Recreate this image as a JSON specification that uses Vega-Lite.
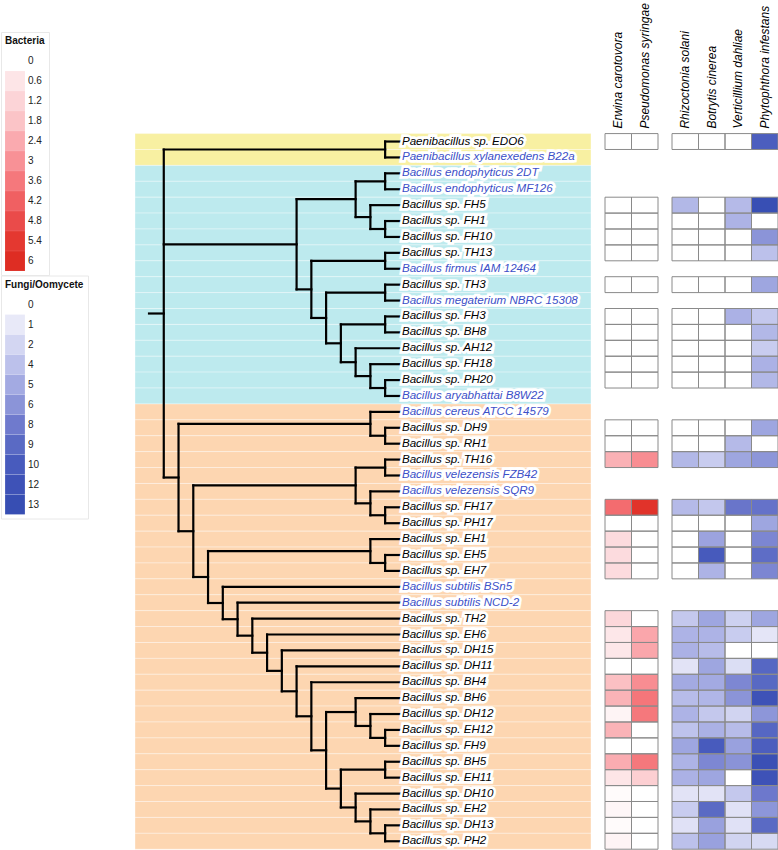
{
  "$schema": "https://vega.github.io/schema/vega-lite/v6.json",
  "padding": 0,
  "background": "white",
  "config": {"view": {"stroke": null}, "font": "Liberation Sans"},
  "bounds": "flush",
  "spacing": 14,
  "resolve": {"scale": {"color": "independent", "fill": "independent", "x": "independent", "y": "independent"}},
  "datasets": {
    "taxa": [
      {"idx": 0, "name": "Paenibacillus sp. EDO6", "kind": "isolate", "clade": "Paenibacillus"},
      {"idx": 1, "name": "Paenibacillus xylanexedens B22a", "kind": "reference", "clade": "Paenibacillus"},
      {"idx": 2, "name": "Bacillus endophyticus 2DT", "kind": "reference", "clade": "Bacillus I"},
      {"idx": 3, "name": "Bacillus endophyticus MF126", "kind": "reference", "clade": "Bacillus I"},
      {"idx": 4, "name": "Bacillus sp. FH5", "kind": "isolate", "clade": "Bacillus I"},
      {"idx": 5, "name": "Bacillus sp. FH1", "kind": "isolate", "clade": "Bacillus I"},
      {"idx": 6, "name": "Bacillus sp. FH10", "kind": "isolate", "clade": "Bacillus I"},
      {"idx": 7, "name": "Bacillus sp. TH13", "kind": "isolate", "clade": "Bacillus I"},
      {"idx": 8, "name": "Bacillus firmus IAM 12464", "kind": "reference", "clade": "Bacillus I"},
      {"idx": 9, "name": "Bacillus sp. TH3", "kind": "isolate", "clade": "Bacillus I"},
      {"idx": 10, "name": "Bacillus megaterium NBRC 15308", "kind": "reference", "clade": "Bacillus I"},
      {"idx": 11, "name": "Bacillus sp. FH3", "kind": "isolate", "clade": "Bacillus I"},
      {"idx": 12, "name": "Bacillus sp. BH8", "kind": "isolate", "clade": "Bacillus I"},
      {"idx": 13, "name": "Bacillus sp. AH12", "kind": "isolate", "clade": "Bacillus I"},
      {"idx": 14, "name": "Bacillus sp. FH18", "kind": "isolate", "clade": "Bacillus I"},
      {"idx": 15, "name": "Bacillus sp. PH20", "kind": "isolate", "clade": "Bacillus I"},
      {"idx": 16, "name": "Bacillus aryabhattai B8W22", "kind": "reference", "clade": "Bacillus I"},
      {"idx": 17, "name": "Bacillus cereus ATCC 14579", "kind": "reference", "clade": "Bacillus II"},
      {"idx": 18, "name": "Bacillus sp. DH9", "kind": "isolate", "clade": "Bacillus II"},
      {"idx": 19, "name": "Bacillus sp. RH1", "kind": "isolate", "clade": "Bacillus II"},
      {"idx": 20, "name": "Bacillus sp. TH16", "kind": "isolate", "clade": "Bacillus II"},
      {"idx": 21, "name": "Bacillus velezensis FZB42", "kind": "reference", "clade": "Bacillus II"},
      {"idx": 22, "name": "Bacillus velezensis SQR9", "kind": "reference", "clade": "Bacillus II"},
      {"idx": 23, "name": "Bacillus sp. FH17", "kind": "isolate", "clade": "Bacillus II"},
      {"idx": 24, "name": "Bacillus sp. PH17", "kind": "isolate", "clade": "Bacillus II"},
      {"idx": 25, "name": "Bacillus sp. EH1", "kind": "isolate", "clade": "Bacillus II"},
      {"idx": 26, "name": "Bacillus sp. EH5", "kind": "isolate", "clade": "Bacillus II"},
      {"idx": 27, "name": "Bacillus sp. EH7", "kind": "isolate", "clade": "Bacillus II"},
      {"idx": 28, "name": "Bacillus subtilis BSn5", "kind": "reference", "clade": "Bacillus II"},
      {"idx": 29, "name": "Bacillus subtilis NCD-2", "kind": "reference", "clade": "Bacillus II"},
      {"idx": 30, "name": "Bacillus sp. TH2", "kind": "isolate", "clade": "Bacillus II"},
      {"idx": 31, "name": "Bacillus sp. EH6", "kind": "isolate", "clade": "Bacillus II"},
      {"idx": 32, "name": "Bacillus sp. DH15", "kind": "isolate", "clade": "Bacillus II"},
      {"idx": 33, "name": "Bacillus sp. DH11", "kind": "isolate", "clade": "Bacillus II"},
      {"idx": 34, "name": "Bacillus sp. BH4", "kind": "isolate", "clade": "Bacillus II"},
      {"idx": 35, "name": "Bacillus sp. BH6", "kind": "isolate", "clade": "Bacillus II"},
      {"idx": 36, "name": "Bacillus sp. DH12", "kind": "isolate", "clade": "Bacillus II"},
      {"idx": 37, "name": "Bacillus sp. EH12", "kind": "isolate", "clade": "Bacillus II"},
      {"idx": 38, "name": "Bacillus sp. FH9", "kind": "isolate", "clade": "Bacillus II"},
      {"idx": 39, "name": "Bacillus sp. BH5", "kind": "isolate", "clade": "Bacillus II"},
      {"idx": 40, "name": "Bacillus sp. EH11", "kind": "isolate", "clade": "Bacillus II"},
      {"idx": 41, "name": "Bacillus sp. DH10", "kind": "isolate", "clade": "Bacillus II"},
      {"idx": 42, "name": "Bacillus sp. EH2", "kind": "isolate", "clade": "Bacillus II"},
      {"idx": 43, "name": "Bacillus sp. DH13", "kind": "isolate", "clade": "Bacillus II"},
      {"idx": 44, "name": "Bacillus sp. PH2", "kind": "isolate", "clade": "Bacillus II"}
    ],
    "tree": [
      {"x": 0, "y": 10.814, "x2": 1, "y2": 10.814},
      {"x": 1, "y": 0.5, "x2": 1, "y2": 21.127},
      {"x": 1, "y": 0.5, "x2": 16, "y2": 0.5},
      {"x": 1, "y": 6.461, "x2": 10, "y2": 6.461},
      {"x": 1, "y": 21.127, "x2": 2, "y2": 21.127},
      {"x": 16, "y": 0, "x2": 16, "y2": 1},
      {"x": 16, "y": 0, "x2": 17, "y2": 0},
      {"x": 16, "y": 1, "x2": 17, "y2": 1},
      {"x": 10, "y": 3.625, "x2": 10, "y2": 9.297},
      {"x": 10, "y": 3.625, "x2": 14, "y2": 3.625},
      {"x": 10, "y": 9.297, "x2": 11, "y2": 9.297},
      {"x": 14, "y": 2.5, "x2": 14, "y2": 4.75},
      {"x": 14, "y": 2.5, "x2": 16, "y2": 2.5},
      {"x": 14, "y": 4.75, "x2": 15, "y2": 4.75},
      {"x": 16, "y": 2, "x2": 16, "y2": 3},
      {"x": 16, "y": 2, "x2": 17, "y2": 2},
      {"x": 16, "y": 3, "x2": 17, "y2": 3},
      {"x": 15, "y": 4, "x2": 15, "y2": 5.5},
      {"x": 15, "y": 4, "x2": 17, "y2": 4},
      {"x": 15, "y": 5.5, "x2": 16, "y2": 5.5},
      {"x": 16, "y": 5, "x2": 16, "y2": 6},
      {"x": 16, "y": 5, "x2": 17, "y2": 5},
      {"x": 16, "y": 6, "x2": 17, "y2": 6},
      {"x": 11, "y": 7.5, "x2": 11, "y2": 11.094},
      {"x": 11, "y": 7.5, "x2": 16, "y2": 7.5},
      {"x": 11, "y": 11.094, "x2": 12, "y2": 11.094},
      {"x": 16, "y": 7, "x2": 16, "y2": 8},
      {"x": 16, "y": 7, "x2": 17, "y2": 7},
      {"x": 16, "y": 8, "x2": 17, "y2": 8},
      {"x": 12, "y": 9.5, "x2": 12, "y2": 12.688},
      {"x": 12, "y": 9.5, "x2": 16, "y2": 9.5},
      {"x": 12, "y": 12.688, "x2": 13, "y2": 12.688},
      {"x": 16, "y": 9, "x2": 16, "y2": 10},
      {"x": 16, "y": 9, "x2": 17, "y2": 9},
      {"x": 16, "y": 10, "x2": 17, "y2": 10},
      {"x": 13, "y": 11.5, "x2": 13, "y2": 13.875},
      {"x": 13, "y": 11.5, "x2": 16, "y2": 11.5},
      {"x": 13, "y": 13.875, "x2": 14, "y2": 13.875},
      {"x": 16, "y": 11, "x2": 16, "y2": 12},
      {"x": 16, "y": 11, "x2": 17, "y2": 11},
      {"x": 16, "y": 12, "x2": 17, "y2": 12},
      {"x": 14, "y": 13, "x2": 14, "y2": 14.75},
      {"x": 14, "y": 13, "x2": 17, "y2": 13},
      {"x": 14, "y": 14.75, "x2": 15, "y2": 14.75},
      {"x": 15, "y": 14, "x2": 15, "y2": 15.5},
      {"x": 15, "y": 14, "x2": 17, "y2": 14},
      {"x": 15, "y": 15.5, "x2": 16, "y2": 15.5},
      {"x": 16, "y": 15, "x2": 16, "y2": 16},
      {"x": 16, "y": 15, "x2": 17, "y2": 15},
      {"x": 16, "y": 16, "x2": 17, "y2": 16},
      {"x": 2, "y": 17.75, "x2": 2, "y2": 24.504},
      {"x": 2, "y": 17.75, "x2": 15, "y2": 17.75},
      {"x": 2, "y": 24.504, "x2": 3, "y2": 24.504},
      {"x": 15, "y": 17, "x2": 15, "y2": 18.5},
      {"x": 15, "y": 17, "x2": 17, "y2": 17},
      {"x": 15, "y": 18.5, "x2": 16, "y2": 18.5},
      {"x": 16, "y": 18, "x2": 16, "y2": 19},
      {"x": 16, "y": 18, "x2": 17, "y2": 18},
      {"x": 16, "y": 19, "x2": 17, "y2": 19},
      {"x": 3, "y": 21.625, "x2": 3, "y2": 27.384},
      {"x": 3, "y": 21.625, "x2": 14, "y2": 21.625},
      {"x": 3, "y": 27.384, "x2": 4, "y2": 27.384},
      {"x": 14, "y": 20.5, "x2": 14, "y2": 22.75},
      {"x": 14, "y": 20.5, "x2": 16, "y2": 20.5},
      {"x": 14, "y": 22.75, "x2": 15, "y2": 22.75},
      {"x": 16, "y": 20, "x2": 16, "y2": 21},
      {"x": 16, "y": 20, "x2": 17, "y2": 20},
      {"x": 16, "y": 21, "x2": 17, "y2": 21},
      {"x": 15, "y": 22, "x2": 15, "y2": 23.5},
      {"x": 15, "y": 22, "x2": 17, "y2": 22},
      {"x": 15, "y": 23.5, "x2": 16, "y2": 23.5},
      {"x": 16, "y": 23, "x2": 16, "y2": 24},
      {"x": 16, "y": 23, "x2": 17, "y2": 23},
      {"x": 16, "y": 24, "x2": 17, "y2": 24},
      {"x": 4, "y": 25.75, "x2": 4, "y2": 29.018},
      {"x": 4, "y": 25.75, "x2": 15, "y2": 25.75},
      {"x": 4, "y": 29.018, "x2": 5, "y2": 29.018},
      {"x": 15, "y": 25, "x2": 15, "y2": 26.5},
      {"x": 15, "y": 25, "x2": 17, "y2": 25},
      {"x": 15, "y": 26.5, "x2": 16, "y2": 26.5},
      {"x": 16, "y": 26, "x2": 16, "y2": 27},
      {"x": 16, "y": 26, "x2": 17, "y2": 26},
      {"x": 16, "y": 27, "x2": 17, "y2": 27},
      {"x": 5, "y": 28, "x2": 5, "y2": 30.036},
      {"x": 5, "y": 28, "x2": 17, "y2": 28},
      {"x": 5, "y": 30.036, "x2": 6, "y2": 30.036},
      {"x": 6, "y": 29, "x2": 6, "y2": 31.071},
      {"x": 6, "y": 29, "x2": 17, "y2": 29},
      {"x": 6, "y": 31.071, "x2": 7, "y2": 31.071},
      {"x": 7, "y": 30, "x2": 7, "y2": 32.143},
      {"x": 7, "y": 30, "x2": 17, "y2": 30},
      {"x": 7, "y": 32.143, "x2": 8, "y2": 32.143},
      {"x": 8, "y": 31, "x2": 8, "y2": 33.285},
      {"x": 8, "y": 31, "x2": 17, "y2": 31},
      {"x": 8, "y": 33.285, "x2": 9, "y2": 33.285},
      {"x": 9, "y": 32, "x2": 9, "y2": 34.57},
      {"x": 9, "y": 32, "x2": 17, "y2": 32},
      {"x": 9, "y": 34.57, "x2": 10, "y2": 34.57},
      {"x": 10, "y": 33, "x2": 10, "y2": 36.141},
      {"x": 10, "y": 33, "x2": 17, "y2": 33},
      {"x": 10, "y": 36.141, "x2": 11, "y2": 36.141},
      {"x": 11, "y": 34, "x2": 11, "y2": 38.281},
      {"x": 11, "y": 34, "x2": 17, "y2": 34},
      {"x": 11, "y": 38.281, "x2": 12, "y2": 38.281},
      {"x": 12, "y": 35.875, "x2": 12, "y2": 40.688},
      {"x": 12, "y": 35.875, "x2": 14, "y2": 35.875},
      {"x": 12, "y": 40.688, "x2": 13, "y2": 40.688},
      {"x": 14, "y": 35, "x2": 14, "y2": 36.75},
      {"x": 14, "y": 35, "x2": 17, "y2": 35},
      {"x": 14, "y": 36.75, "x2": 15, "y2": 36.75},
      {"x": 15, "y": 36, "x2": 15, "y2": 37.5},
      {"x": 15, "y": 36, "x2": 17, "y2": 36},
      {"x": 15, "y": 37.5, "x2": 16, "y2": 37.5},
      {"x": 16, "y": 37, "x2": 16, "y2": 38},
      {"x": 16, "y": 37, "x2": 17, "y2": 37},
      {"x": 16, "y": 38, "x2": 17, "y2": 38},
      {"x": 13, "y": 39.5, "x2": 13, "y2": 41.875},
      {"x": 13, "y": 39.5, "x2": 16, "y2": 39.5},
      {"x": 13, "y": 41.875, "x2": 14, "y2": 41.875},
      {"x": 16, "y": 39, "x2": 16, "y2": 40},
      {"x": 16, "y": 39, "x2": 17, "y2": 39},
      {"x": 16, "y": 40, "x2": 17, "y2": 40},
      {"x": 14, "y": 41, "x2": 14, "y2": 42.75},
      {"x": 14, "y": 41, "x2": 17, "y2": 41},
      {"x": 14, "y": 42.75, "x2": 15, "y2": 42.75},
      {"x": 15, "y": 42, "x2": 15, "y2": 43.5},
      {"x": 15, "y": 42, "x2": 17, "y2": 42},
      {"x": 15, "y": 43.5, "x2": 16, "y2": 43.5},
      {"x": 16, "y": 43, "x2": 16, "y2": 44},
      {"x": 16, "y": 43, "x2": 17, "y2": 43},
      {"x": 16, "y": 44, "x2": 17, "y2": 44}
    ],
    "heat": [
      {"idx": 0, "Ec": 0, "Ps": 0, "Rs": 0, "Bc": 0, "Vd": 0, "Pi": 9.8},
      {"idx": 4, "Ec": 0, "Ps": 0, "Rs": 4.4, "Bc": 0, "Vd": 4.3, "Pi": 12.8},
      {"idx": 5, "Ec": 0, "Ps": 0, "Rs": 0, "Bc": 0, "Vd": 4.6, "Pi": 0},
      {"idx": 6, "Ec": 0, "Ps": 0, "Rs": 0, "Bc": 0, "Vd": 0, "Pi": 6},
      {"idx": 7, "Ec": 0, "Ps": 0, "Rs": 0, "Bc": 0, "Vd": 0, "Pi": 4},
      {"idx": 9, "Ec": 0, "Ps": 0, "Rs": 0, "Bc": 0, "Vd": 0, "Pi": 5.2},
      {"idx": 11, "Ec": 0, "Ps": 0, "Rs": 0, "Bc": 0, "Vd": 4.7, "Pi": 3.3},
      {"idx": 12, "Ec": 0, "Ps": 0, "Rs": 0, "Bc": 0, "Vd": 0, "Pi": 4.4},
      {"idx": 13, "Ec": 0, "Ps": 0, "Rs": 0, "Bc": 0, "Vd": 0, "Pi": 3},
      {"idx": 14, "Ec": 0, "Ps": 0, "Rs": 0, "Bc": 0, "Vd": 0, "Pi": 4.7},
      {"idx": 15, "Ec": 0, "Ps": 0, "Rs": 0, "Bc": 0, "Vd": 0, "Pi": 4.4},
      {"idx": 18, "Ec": 0, "Ps": 0, "Rs": 0, "Bc": 0, "Vd": 0, "Pi": 5.2},
      {"idx": 19, "Ec": 0, "Ps": 0, "Rs": 0, "Bc": 0, "Vd": 4.3, "Pi": 0},
      {"idx": 20, "Ec": 2.25, "Ps": 3.1, "Rs": 4.4, "Bc": 3, "Vd": 5.2, "Pi": 5.9},
      {"idx": 23, "Ec": 3.9, "Ps": 5.7, "Rs": 4.3, "Bc": 3.4, "Vd": 8.3, "Pi": 8.5},
      {"idx": 24, "Ec": 0, "Ps": 0, "Rs": 0, "Bc": 0, "Vd": 0, "Pi": 5.2},
      {"idx": 25, "Ec": 0.95, "Ps": 0, "Rs": 0, "Bc": 5.3, "Vd": 0, "Pi": 7.1},
      {"idx": 26, "Ec": 0.95, "Ps": 0, "Rs": 0, "Bc": 10.2, "Vd": 0, "Pi": 8.8},
      {"idx": 27, "Ec": 0.95, "Ps": 0, "Rs": 0, "Bc": 4.6, "Vd": 0, "Pi": 7.1},
      {"idx": 30, "Ec": 1.1, "Ps": 0, "Rs": 3.3, "Bc": 5.2, "Vd": 2.5, "Pi": 5.2},
      {"idx": 31, "Ec": 0.55, "Ps": 2.5, "Rs": 4.6, "Bc": 4.6, "Vd": 3, "Pi": 1.2},
      {"idx": 32, "Ec": 0.55, "Ps": 2.5, "Rs": 4.7, "Bc": 4.2, "Vd": 0, "Pi": 0},
      {"idx": 33, "Ec": 0, "Ps": 0, "Rs": 1.3, "Bc": 5.2, "Vd": 1.6, "Pi": 9.2},
      {"idx": 34, "Ec": 1.9, "Ps": 3.1, "Rs": 5, "Bc": 5, "Vd": 7, "Pi": 9.1},
      {"idx": 35, "Ec": 2.2, "Ps": 3.65, "Rs": 4.2, "Bc": 4.5, "Vd": 6, "Pi": 12},
      {"idx": 36, "Ec": 0.25, "Ps": 3.6, "Rs": 4.6, "Bc": 3.3, "Vd": 2.2, "Pi": 5.9},
      {"idx": 37, "Ec": 2.2, "Ps": 0, "Rs": 3.8, "Bc": 4.7, "Vd": 4.2, "Pi": 9.2},
      {"idx": 38, "Ec": 0, "Ps": 0, "Rs": 5.2, "Bc": 10, "Vd": 5.4, "Pi": 9.8},
      {"idx": 39, "Ec": 2.35, "Ps": 3.6, "Rs": 4.6, "Bc": 7, "Vd": 6.1, "Pi": 12.4},
      {"idx": 40, "Ec": 0.6, "Ps": 1.4, "Rs": 4.7, "Bc": 5.2, "Vd": 0, "Pi": 12},
      {"idx": 41, "Ec": 0.1, "Ps": 0, "Rs": 1.3, "Bc": 1.3, "Vd": 3.3, "Pi": 8.1},
      {"idx": 42, "Ec": 0.2, "Ps": 0, "Rs": 3, "Bc": 9, "Vd": 1.4, "Pi": 5.9},
      {"idx": 43, "Ec": 0.1, "Ps": 0, "Rs": 1.4, "Bc": 5.4, "Vd": 1.4, "Pi": 9},
      {"idx": 44, "Ec": 0.25, "Ps": 0, "Rs": 4, "Bc": 5.4, "Vd": 2.2, "Pi": 1.8}
    ]
  },
  "hconcat": [
    {
      "width": 456,
      "height": 850,
      "layer": [
        {
          "data": {"name": "taxa"},
          "mark": {"type": "rect", "stroke": "white", "strokeOpacity": 0.35, "strokeWidth": 1, "yOffset": -7.95, "y2Offset": 7.95},
          "encoding": {
            "y": {"field": "idx", "type": "quantitative", "scale": {"domain": [-8.9, 44.55], "reverse": true, "nice": false, "zero": false}, "axis": null},
            "y2": {"field": "idx"},
            "fill": {"field": "clade", "type": "nominal", "scale": {"domain": ["Paenibacillus", "Bacillus I", "Bacillus II"], "range": ["#f8f0a2", "#bdeaee", "#fdd6b1"]}, "legend": null}
          }
        },
        {
          "data": {"name": "tree"},
          "mark": {"type": "rule", "strokeWidth": 2.2, "color": "black", "strokeCap": "square"},
          "encoding": {
            "x": {"field": "x", "type": "quantitative", "scale": {"domain": [-0.95, 29.95], "nice": false, "zero": false}, "axis": null},
            "x2": {"field": "x2"},
            "y": {"field": "y", "type": "quantitative", "scale": {"domain": [-8.9, 44.55], "reverse": true, "nice": false, "zero": false}, "axis": null},
            "y2": {"field": "y2"}
          }
        },
        {
          "data": {"name": "taxa"},
          "mark": {"type": "text", "align": "left", "baseline": "middle", "dx": 2, "font": "Liberation Sans", "fontStyle": "italic", "fontSize": 11.6, "fill": "white", "stroke": "white", "strokeWidth": 5.5, "strokeJoin": "miter", "strokeMiterLimit": 2},
          "encoding": {
            "x": {"datum": 17, "type": "quantitative", "scale": {"domain": [-0.95, 29.95], "nice": false, "zero": false}, "axis": null},
            "y": {"field": "idx", "type": "quantitative", "scale": {"domain": [-8.9, 44.55], "reverse": true, "nice": false, "zero": false}, "axis": null},
            "text": {"field": "name"}
          }
        },
        {
          "data": {"name": "taxa"},
          "mark": {"type": "text", "align": "left", "baseline": "middle", "dx": 2, "font": "Liberation Sans", "fontStyle": "italic", "fontSize": 11.6},
          "encoding": {
            "x": {"datum": 17, "type": "quantitative", "scale": {"domain": [-0.95, 29.95], "nice": false, "zero": false}, "axis": null},
            "y": {"field": "idx", "type": "quantitative", "scale": {"domain": [-8.9, 44.55], "reverse": true, "nice": false, "zero": false}, "axis": null},
            "text": {"field": "name"},
            "color": {"field": "kind", "type": "nominal", "scale": {"domain": ["isolate", "reference"], "range": ["#000000", "#3c50c8"]}, "legend": null}
          }
        }
      ]
    },
    {
      "width": 53,
      "height": 850,
      "layer": [
        {
          "data": {"name": "heat"},
          "transform": [{"fold": ["Ec", "Ps"], "as": ["pathogen", "v"]}],
          "mark": {"type": "rect", "yOffset": -7.95, "y2Offset": 7.95},
          "encoding": {
            "x": {"field": "pathogen", "type": "nominal", "scale": {"domain": ["Ec", "Ps"], "paddingInner": 0, "paddingOuter": 0}, "axis": null},
            "y": {"field": "idx", "type": "quantitative", "scale": {"domain": [-8.9, 44.55], "reverse": true, "nice": false, "zero": false}, "axis": null},
            "y2": {"field": "idx"},
            "fill": {
              "field": "v", "type": "quantitative",
              "scale": {"type": "linear", "interpolate": "rgb", "clamp": true, "nice": false, "zero": false, "domain": [0, 0.6, 1.2, 1.8, 2.4, 3, 3.6, 4.2, 4.8, 5.4, 6], "range": ["#ffffff", "#fde5e7", "#fcd4d7", "#fbc4c7", "#faaaaf", "#f89196", "#f5787c", "#f06062", "#ea4b4a", "#e43830", "#de2d23"]},
              "legend": {"title": "Bacteria", "type": "symbol", "values": [0, 0.6, 1.2, 1.8, 2.4, 3, 3.6, 4.2, 4.8, 5.4, 6], "format": ".3~g", "orient": "none", "legendX": -604, "legendY": 32, "direction": "vertical", "symbolType": "square", "symbolSize": 396, "symbolStrokeWidth": 0, "symbolOpacity": 1, "rowPadding": 0, "labelFont": "Liberation Sans", "labelFontSize": 10, "labelOffset": 3, "labelColor": "#222222", "titleFont": "Liberation Sans", "titleFontSize": 10, "titleFontWeight": "bold", "titleColor": "#111111", "titlePadding": 5, "padding": 4, "strokeColor": "#e8e8e8", "fillColor": "white"}
            }
          }
        },
        {
          "data": {"name": "heat"},
          "transform": [{"fold": ["Ec", "Ps"], "as": ["pathogen", "v"]}],
          "mark": {"type": "rect", "filled": false, "stroke": "#8a8a8a", "strokeWidth": 1, "yOffset": -7.95, "y2Offset": 7.95},
          "encoding": {
            "x": {"field": "pathogen", "type": "nominal", "scale": {"domain": ["Ec", "Ps"], "paddingInner": 0, "paddingOuter": 0}, "axis": null},
            "y": {"field": "idx", "type": "quantitative", "scale": {"domain": [-8.9, 44.55], "reverse": true, "nice": false, "zero": false}, "axis": null},
            "y2": {"field": "idx"}
          }
        },
        {
          "data": {"values": [{"pathogen": "Ec", "label": "Erwina carotovora"}, {"pathogen": "Ps", "label": "Pseudomonas syringae"}]},
          "mark": {"type": "text", "angle": 270, "align": "left", "baseline": "middle", "dx": 5, "font": "Liberation Sans", "fontStyle": "italic", "fontSize": 12, "color": "black"},
          "encoding": {
            "x": {"field": "pathogen", "type": "nominal", "scale": {"domain": ["Ec", "Ps"], "paddingInner": 0, "paddingOuter": 0}, "axis": null},
            "y": {"datum": -0.5, "type": "quantitative", "scale": {"domain": [-8.9, 44.55], "reverse": true, "nice": false, "zero": false}, "axis": null},
            "text": {"field": "label"}
          }
        }
      ]
    },
    {
      "width": 106,
      "height": 850,
      "layer": [
        {
          "data": {"name": "heat"},
          "transform": [{"fold": ["Rs", "Bc", "Vd", "Pi"], "as": ["pathogen", "v"]}],
          "mark": {"type": "rect", "yOffset": -7.95, "y2Offset": 7.95},
          "encoding": {
            "x": {"field": "pathogen", "type": "nominal", "scale": {"domain": ["Rs", "Bc", "Vd", "Pi"], "paddingInner": 0, "paddingOuter": 0}, "axis": null},
            "y": {"field": "idx", "type": "quantitative", "scale": {"domain": [-8.9, 44.55], "reverse": true, "nice": false, "zero": false}, "axis": null},
            "y2": {"field": "idx"},
            "fill": {
              "field": "v", "type": "quantitative",
              "scale": {"type": "linear", "interpolate": "rgb", "clamp": true, "nice": false, "zero": false, "domain": [0, 1, 2, 4, 5, 6, 8, 9, 10, 12, 13], "range": ["#ffffff", "#e8e9f8", "#d3d6f2", "#bcc1eb", "#a3aae2", "#8b94d8", "#6f7acd", "#5a6ac4", "#485bbd", "#3e52b7", "#374eb3"]},
              "legend": {"title": "Fungi/Oomycete", "type": "symbol", "values": [0, 1, 2, 4, 5, 6, 8, 9, 10, 12, 13], "format": ".3~g", "orient": "none", "legendX": -671, "legendY": 275.5, "direction": "vertical", "symbolType": "square", "symbolSize": 392, "symbolStrokeWidth": 0, "symbolOpacity": 1, "rowPadding": 0, "labelFont": "Liberation Sans", "labelFontSize": 10, "labelOffset": 3, "labelColor": "#222222", "titleFont": "Liberation Sans", "titleFontSize": 10, "titleFontWeight": "bold", "titleColor": "#111111", "titlePadding": 5, "padding": 4, "strokeColor": "#e8e8e8", "fillColor": "white"}
            }
          }
        },
        {
          "data": {"name": "heat"},
          "transform": [{"fold": ["Rs", "Bc", "Vd", "Pi"], "as": ["pathogen", "v"]}],
          "mark": {"type": "rect", "filled": false, "stroke": "#8a8a8a", "strokeWidth": 1, "yOffset": -7.95, "y2Offset": 7.95},
          "encoding": {
            "x": {"field": "pathogen", "type": "nominal", "scale": {"domain": ["Rs", "Bc", "Vd", "Pi"], "paddingInner": 0, "paddingOuter": 0}, "axis": null},
            "y": {"field": "idx", "type": "quantitative", "scale": {"domain": [-8.9, 44.55], "reverse": true, "nice": false, "zero": false}, "axis": null},
            "y2": {"field": "idx"}
          }
        },
        {
          "data": {"values": [{"pathogen": "Rs", "label": "Rhizoctonia solani"}, {"pathogen": "Bc", "label": "Botrytis cinerea"}, {"pathogen": "Vd", "label": "Verticillium dahliae"}, {"pathogen": "Pi", "label": "Phytophthora infestans"}]},
          "mark": {"type": "text", "angle": 270, "align": "left", "baseline": "middle", "dx": 5, "font": "Liberation Sans", "fontStyle": "italic", "fontSize": 12, "color": "black"},
          "encoding": {
            "x": {"field": "pathogen", "type": "nominal", "scale": {"domain": ["Rs", "Bc", "Vd", "Pi"], "paddingInner": 0, "paddingOuter": 0}, "axis": null},
            "y": {"datum": -0.5, "type": "quantitative", "scale": {"domain": [-8.9, 44.55], "reverse": true, "nice": false, "zero": false}, "axis": null},
            "text": {"field": "label"}
          }
        }
      ]
    }
  ]
}
